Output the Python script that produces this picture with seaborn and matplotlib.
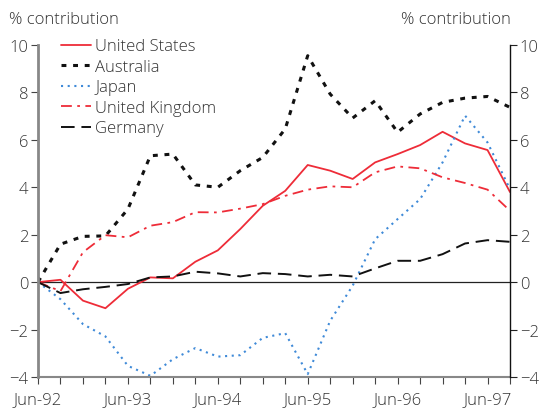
import pandas as pd
import seaborn as sns
import matplotlib.pyplot as plt

# quarterly points, Jun-92 .. Sep-97
quarters = list(range(22))
tick_labels = ["Jun-92", "Jun-93", "Jun-94", "Jun-95", "Jun-96", "Jun-97"]

united_states = [0.0, 0.1, -0.78, -1.1, -0.28, 0.2, 0.16, 0.86, 1.34, 2.24, 3.22, 3.85,
                 4.94, 4.7, 4.35, 5.05, 5.4, 5.78, 6.34, 5.85, 5.57, 3.8]
australia = [0.0, 1.6, 1.93, 1.95, 3.08, 5.33, 5.4, 4.1, 4.0, 4.7, 5.26, 6.46,
             9.55, 7.93, 6.92, 7.65, 6.32, 7.09, 7.58, 7.76, 7.83, 7.37]
japan = [0.0, -0.72, -1.77, -2.29, -3.53, -3.95, -3.25, -2.78, -3.14, -3.08, -2.35, -2.15,
         -3.88, -1.63, -0.15, 1.81, 2.66, 3.5, 5.05, 7.02, 5.89, 3.92]
united_kingdom = [0.0, -0.38, 1.26, 1.98, 1.89, 2.38, 2.53, 2.95, 2.94, 3.1, 3.29, 3.64,
                  3.9, 4.04, 4.0, 4.63, 4.88, 4.8, 4.42, 4.18, 3.9, 3.01]
germany = [0.0, -0.46, -0.3, -0.2, -0.08, 0.2, 0.24, 0.44, 0.37, 0.24, 0.38, 0.34,
           0.24, 0.31, 0.24, 0.58, 0.9, 0.9, 1.18, 1.63, 1.77, 1.7]

series = {
    "United States": (united_states, "#EE2C38", 1.3, None),
    "Australia": (australia, "#111111", 2.2, (1.6, 2.2)),
    "Japan": (japan, "#3F8AD8", 1.5, (1.0, 2.2)),
    "United Kingdom": (united_kingdom, "#EE2C38", 1.3, (6, 3, 1.5, 3)),
    "Germany": (germany, "#111111", 1.4, (7, 3.5)),
}

sns.set_style("ticks")
plt.rcParams["font.family"] = ["Open Sans", "DejaVu Sans"]
plt.rcParams["font.weight"] = "light"
plt.rcParams["text.color"] = "#333333"

fig = plt.figure(figsize=(5.39, 4.10), dpi=100)
ax = fig.add_axes([38 / 539, 32 / 410, 472 / 539, 332 / 410])

for name, (vals, col, lw, dash) in series.items():
    df = pd.DataFrame({"q": quarters, "v": vals})
    sns.lineplot(data=df, x="q", y="v", ax=ax, color=col, linewidth=lw, label=name)
    l = ax.lines[-1]
    if dash is not None:
        l.set_dashes(dash)

ax.axhline(0, color="#222222", linewidth=0.9, zorder=0)

ax.set_xlim(0, 21)
ax.set_ylim(-4, 10)
ax.set_xlabel("")
ax.set_ylabel("")

ax.set_xticks(quarters)
ax.set_xticklabels([tick_labels[i // 4] if i % 4 == 0 else "" for i in quarters])
ax.set_yticks(range(-4, 11, 2))

ax.tick_params(axis="x", direction="out", length=5, width=0.8, color="#444444",
               labelsize=12, labelcolor="#333333", pad=5)
ax.tick_params(axis="y", direction="out", length=5, width=0.8, color="#444444",
               labelsize=12, labelcolor="#333333", pad=2)

ax2 = ax.twinx()
ax2.set_ylim(-4, 10)
ax2.set_yticks(range(-4, 11, 2))
ax2.tick_params(axis="y", direction="out", length=5, width=0.8, color="#222222",
                labelsize=12, labelcolor="#333333", pad=2)

for a in (ax, ax2):
    a.spines["top"].set_visible(False)
ax.spines["right"].set_visible(False)
ax2.spines["left"].set_visible(False)
ax2.spines["bottom"].set_visible(False)
ax.spines["left"].set_color("#888888")
ax.spines["left"].set_linewidth(2)
ax.spines["bottom"].set_color("#888888")
ax.spines["bottom"].set_linewidth(1.5)
ax2.spines["right"].set_color("#111111")
ax2.spines["right"].set_linewidth(1)

leg = ax.legend(loc="upper left", bbox_to_anchor=(0.035, 1.04), frameon=False,
                fontsize=12, handlelength=1.8, handletextpad=0.25, labelspacing=0.27,
                borderaxespad=0)
for t in leg.get_texts():
    t.set_color("#333333")

fig.text(9 / 539, 1 - 20 / 410, "% contribution", fontsize=12, color="#333333",
         ha="left", va="center")
fig.text(511 / 539, 1 - 20 / 410, "% contribution", fontsize=12, color="#333333",
         ha="right", va="center")

fig.savefig("out.png", dpi=100)
